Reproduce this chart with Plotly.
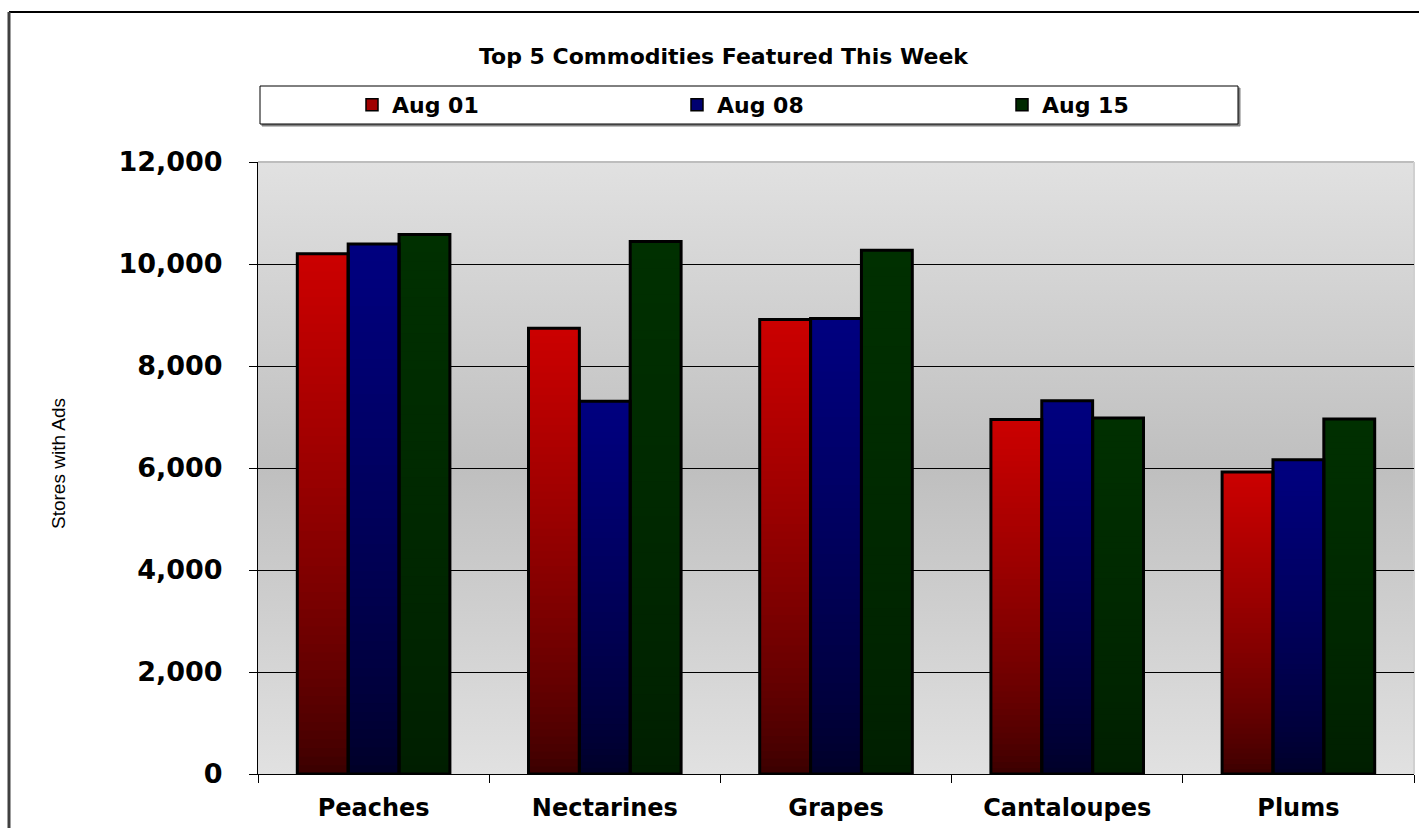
import base64
import plotly.graph_objects as go

categories = ["Peaches", "Nectarines", "Grapes", "Cantaloupes", "Plums"]
series_names = ["Aug 01", "Aug 08", "Aug 15"]
aug01 = [10200, 8740, 8910, 6950, 5920]
aug08 = [10390, 7310, 8930, 7320, 6160]
aug15 = [10580, 10440, 10270, 6980, 6960]
y_ticks = [0, 2000, 4000, 6000, 8000, 10000, 12000]

series_values = [aug01, aug08, aug15]
# gradient colours (bottom, top) per series
grad = [((0x38, 0x00, 0x00), (0xcc, 0x00, 0x00)),
        ((0x00, 0x00, 0x26), (0x00, 0x00, 0x80)),
        ((0x00, 0x1e, 0x00), (0x00, 0x30, 0x00))]
legend_cols = ["#a00000", "#000070", "#002a00"]

W, H = 1419, 828
L, R, T, B = 258, 5, 162, 54
PW, PH = W - L - R, H - T - B


def xp(px):
    return (px - L) / PW


def yp(py):
    return (H - B - py) / PH


def col(c0, c1, f, g=0.75):
    f = f ** g
    return "rgb(%d,%d,%d)" % tuple(round(a + (b - a) * f) for a, b in zip(c0, c1))


N = 60
fig = go.Figure()
for si, (name, vals) in enumerate(zip(series_names, series_values)):
    xs, bases, ys, cols = [], [], [], []
    for k in range(N):
        c = col(grad[si][0], grad[si][1], (k + 0.5) / N)
        h = 1.0 if k == N - 1 else 2.0  # overlap into next segment to hide seams
        for cat, v in zip(categories, vals):
            xs.append(cat)
            bases.append(v * k / N)
            ys.append(v / N * h)
            cols.append(c)
    fig.add_trace(go.Bar(x=xs, y=ys, base=bases, offsetgroup=name,
                         marker=dict(color=cols, line=dict(width=0)),
                         showlegend=False, hoverinfo="skip"))
for si, (name, vals) in enumerate(zip(series_names, series_values)):
    fig.add_trace(go.Bar(x=categories, y=vals, offsetgroup=name, name=name,
                         marker=dict(color="rgba(0,0,0,0)", line=dict(color="black", width=3)),
                         showlegend=False))
for si, name in enumerate(series_names):
    fig.add_trace(go.Bar(x=[categories[0]], y=[None], offsetgroup=name, name=name,
                         marker=dict(color=legend_cols[si], line=dict(color="black", width=1.5)),
                         showlegend=True))

svg = ('<svg xmlns="http://www.w3.org/2000/svg" width="100" height="100" viewBox="0 0 100 100" '
       'preserveAspectRatio="none"><defs><linearGradient id="g" x1="0" y1="0" x2="0" y2="1">'
       '<stop offset="0" stop-color="#e1e1e1"/><stop offset="0.5" stop-color="#bfbfbf"/>'
       '<stop offset="1" stop-color="#e1e1e1"/></linearGradient></defs>'
       '<rect x="0" y="0" width="100" height="100" fill="url(#g)"/></svg>')
src = "data:image/svg+xml;base64," + base64.b64encode(svg.encode()).decode()

shapes = [
    # outer frame
    dict(type="line", xref="paper", yref="paper", x0=xp(9), x1=xp(1425), y0=yp(12), y1=yp(12),
         line=dict(color="black", width=2)),
    dict(type="line", xref="paper", yref="paper", x0=xp(9), x1=xp(9), y0=yp(12), y1=yp(835),
         line=dict(color="#404040", width=3)),
    # plot area top/right border
    dict(type="line", xref="paper", yref="paper", x0=0, x1=1, y0=1, y1=1,
         line=dict(color="#bdbdbd", width=2), layer="below"),
    dict(type="line", xref="paper", yref="paper", x0=1, x1=1, y0=0, y1=1,
         line=dict(color="#d0d0d0", width=2), layer="below"),
    # legend box shadow and box
    dict(type="rect", xref="paper", yref="paper", x0=xp(262), x1=xp(1240), y0=yp(126), y1=yp(88),
         line=dict(color="#808080", width=1), fillcolor="#808080", layer="below"),
    dict(type="rect", xref="paper", yref="paper", x0=xp(260), x1=xp(1238), y0=yp(124), y1=yp(86),
         line=dict(color="black", width=1), fillcolor="white", layer="below"),
]

fig.update_layout(
    width=W, height=H,
    margin=dict(l=L, r=R, t=T, b=B),
    paper_bgcolor="white",
    plot_bgcolor="rgba(0,0,0,0)",
    barmode="group", bargap=0.34, bargroupgap=0,
    font=dict(family="DejaVu Sans", color="black"),
    images=[dict(source=src, xref="paper", yref="paper", x=0, y=1, sizex=1, sizey=1,
                 sizing="stretch", layer="below", xanchor="left", yanchor="top")],
    shapes=shapes,
    legend=dict(orientation="h", x=xp(352), y=yp(105), xanchor="left", yanchor="middle",
                bgcolor="rgba(0,0,0,0)", borderwidth=0,
                font=dict(family="DejaVu Sans", size=22, color="black", weight="bold"),
                entrywidth=280, entrywidthmode="pixels", traceorder="normal"),
    annotations=[
        dict(text="<b>Top 5 Commodities Featured This Week</b>", xref="paper", yref="paper",
             x=xp(724), y=yp(57), showarrow=False, xanchor="center", yanchor="middle",
             font=dict(family="DejaVu Sans", size=22, color="black")),
        dict(text="Stores with Ads", xref="paper", yref="paper", x=xp(58), y=yp(464),
             showarrow=False, textangle=-90, xanchor="center", yanchor="middle",
             font=dict(family="Liberation Sans", size=19, color="black")),
    ],
    xaxis=dict(showgrid=False, showline=True, linecolor="black", linewidth=1,
               ticks="outside", tickson="boundaries", ticklen=8, tickcolor="black",
               ticklabelstandoff=12,
               tickfont=dict(family="DejaVu Sans", size=24, color="black", weight="bold")),
    yaxis=dict(range=[0, 12000], tickvals=y_ticks, tickformat=",", showgrid=True,
               gridcolor="black", gridwidth=1, zeroline=False, showline=True,
               linecolor="black", linewidth=1, ticks="outside", ticklen=8, tickcolor="black",
               ticklabelstandoff=21,
               tickfont=dict(family="DejaVu Sans", size=27, color="black", weight="bold")),
)

fig.write_html("out.html", config={"displayModeBar": False},
               post_script="document.body.style.margin='0';")
